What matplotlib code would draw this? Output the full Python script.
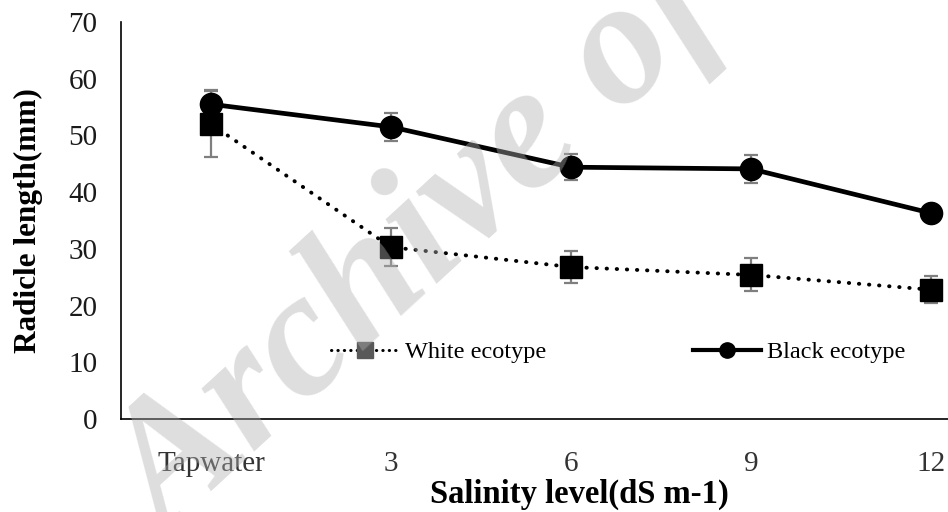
import numpy as np
import matplotlib.pyplot as plt
from matplotlib.lines import Line2D

plt.rcParams['font.family'] = ['Liberation Serif', 'DejaVu Serif']

# salinity treatments and mean radicle length (mm) with error bars
levels = ['Tapwater', '3', '6', '9', '12']
black_mean = [55.5, 51.5, 44.4, 44.1, 36.3]
black_err = [2.5, 2.5, 2.3, 2.4, 1.0]
white_mean = [52.0, 30.3, 26.8, 25.4, 22.8]
white_err = [5.8, 3.4, 2.9, 2.9, 2.4]

x = np.arange(len(levels))

fig = plt.figure(figsize=(9.48, 5.12), dpi=100)
# category axis runs past the right edge of the canvas
ax = fig.add_axes([121 / 948, 93 / 512, 900 / 948, 397 / 512])

err_kw = dict(ecolor='#7f7f7f', elinewidth=1.6, capsize=5, capthick=1.6, zorder=2)

ax.errorbar(x, white_mean, yerr=white_err, fmt='none', **err_kw)
ax.errorbar(x, black_mean, yerr=black_err, fmt='none', **err_kw)

ax.plot(x, white_mean, color='black', lw=2.8, linestyle=(0, (0.1, 2.5)),
        dash_capstyle='round', marker='s', ms=16, zorder=3)
ax.plot(x, black_mean, color='black', lw=3.4, marker='o', ms=16, zorder=4)

ax.set_xlim(-0.5, 4.5)
ax.set_ylim(0, 70)
ax.set_yticks(np.arange(0, 71, 10))
ax.set_xticks(x)
ax.set_xticklabels(levels)
ax.tick_params(axis='both', length=0, labelsize=21, labelcolor='#1a1a1a')
ax.tick_params(axis='y', pad=17)
ax.tick_params(axis='x', pad=23, labelcolor='#333333')

for side in ['top', 'right']:
    ax.spines[side].set_visible(False)
for side in ['left', 'bottom']:
    ax.spines[side].set_linewidth(1.2)

ax.set_xlabel('Salinity level(dS m-1)', fontsize=23.5, fontweight='bold')
ax.xaxis.set_label_coords(0.509, -0.19)
ax.xaxis.label.set_va('center')
ax.set_ylabel('Radicle length(mm)', fontsize=22.5, fontweight='bold')
ax.yaxis.set_label_coords(-0.103, 0.50)
ax.yaxis.label.set_va('center')

# two separate legend entries placed inside the plot area
white_handle = Line2D([], [], color='black', lw=2.2, linestyle=(0, (0.1, 2.0)),
                      dash_capstyle='round', marker='s', ms=11,
                      markerfacecolor='#595959', markeredgecolor='#595959')
black_handle = Line2D([], [], color='black', lw=3, marker='o', ms=11)

leg_kw = dict(frameon=False, fontsize=17.5, handlelength=2.8, handletextpad=0.25,
              borderpad=0, borderaxespad=0, loc='center left')
fig.legend([white_handle], ['White ecotype'],
           bbox_to_anchor=(331 / 948, 1 - 352 / 512), **leg_kw)
fig.legend([black_handle], ['Black ecotype'],
           bbox_to_anchor=(693 / 948, 1 - 352 / 512), **leg_kw)

# archive watermark laid over the chart
fig.text(167 / 948, -28 / 512, 'Archive of SID', rotation=42.6, rotation_mode='anchor',
         ha='left', va='baseline', fontsize=128, fontweight='bold', fontstyle='italic',
         color='#b0b0b0', alpha=0.42, zorder=10)

fig.savefig('out.png', dpi=100)
